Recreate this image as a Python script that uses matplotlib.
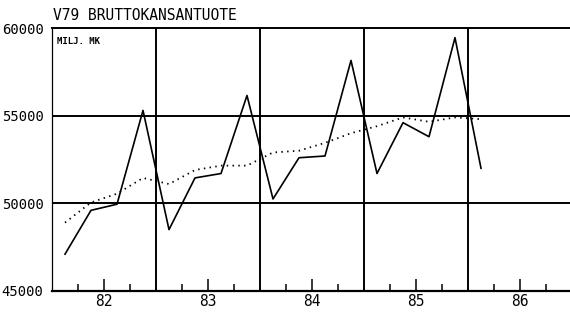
#!/usr/bin/env python3
# V79 bruttokansantuote, quarterly series with trend (scanned plotter chart)

import matplotlib
matplotlib.use('Agg')
import matplotlib.pyplot as plt

# data
years = [82, 83, 84, 85, 86]
year_labels = ['82', '83', '84', '85', '86']
# quarters from 82Q1 to 86Q1
quarter_year = [82, 82, 82, 82, 83, 83, 83, 83, 84, 84, 84, 84,
                85, 85, 85, 85, 86]
quarter_num = [1, 2, 3, 4, 1, 2, 3, 4, 1, 2, 3, 4, 1, 2, 3, 4, 1]
gdp = [47100, 49600, 49950, 55300, 48500, 51450, 51700, 56150,
       50250, 52600, 52700, 58150, 51700, 54600, 53800, 59450, 52000]
trend = [48900, 50050, 50550, 51450, 51100, 51900, 52150, 52150,
         52900, 53000, 53450, 54000, 54400, 54900, 54650, 54900, 54800]
y_ticks = [45000, 50000, 55000, 60000]
y_labels = ['45000', '50000', '55000', '60000']

title = 'V79 BRUTTOKANSANTUOTE'
unit = 'MILJ. MK'

FONT = 'DejaVu Sans Mono'


def quarter_pos(year, q):
    '''
    Year label sits in the middle of the year, quarters spread around it
    '''
    return year - 0.5 + (q - 0.5) / 4.0


def main():
    x = [quarter_pos(y, q) for y, q in zip(quarter_year, quarter_num)]

    fig = plt.figure(figsize=(5.70, 3.12), dpi=100)
    ax = fig.add_axes([52 / 570, 21 / 312, 1 - 52 / 570, 263 / 312])
    ax.set_xlim(81.5, 81.5 + 518 / 104)
    ax.set_ylim(45000, 60000)

    # grid lines
    for val in y_ticks[1:-1]:
        ax.axhline(val, color='black', linewidth=1.4, zorder=1)
    for yr in years[:-1]:
        ax.axvline(yr + 0.5, color='black', linewidth=1.4, zorder=1)

    # series
    ax.plot(x, gdp, color='black', linewidth=1.2, zorder=3)
    ax.plot(x, trend, color='black', linewidth=1.3,
            linestyle=(0, (0.8, 2.4)), zorder=2)

    # spines
    ax.spines['right'].set_visible(False)
    ax.spines['top'].set_linewidth(1.4)
    ax.spines['bottom'].set_linewidth(1.6)
    ax.spines['left'].set_linewidth(0.9)

    # ticks
    ax.set_yticks(y_ticks)
    ax.set_yticklabels(y_labels, family=FONT, fontsize=10)
    ax.tick_params(axis='y', length=0, pad=6)

    ax.set_xticks(years)
    ax.set_xticklabels(year_labels, family=FONT, fontsize=10.5)
    minor = []
    for yr in years:
        minor += [yr - 0.25, yr + 0.25]
    ax.set_xticks(minor, minor=True)
    ax.tick_params(axis='x', which='major', direction='in', length=8.5,
                   width=1.1, pad=2)
    ax.tick_params(axis='x', which='minor', direction='in', length=5,
                   width=1.1)

    # texts
    fig.text(53 / 570, 1 - 15 / 312, title, family=FONT, fontsize=10.5,
             va='center', ha='left')
    ax.text(0.01, 0.965, unit, transform=ax.transAxes, family=FONT,
            fontsize=6.5, fontweight='bold', va='top', ha='left')

    fig.savefig('out.png', dpi=100)


if __name__ == '__main__':
    main()
